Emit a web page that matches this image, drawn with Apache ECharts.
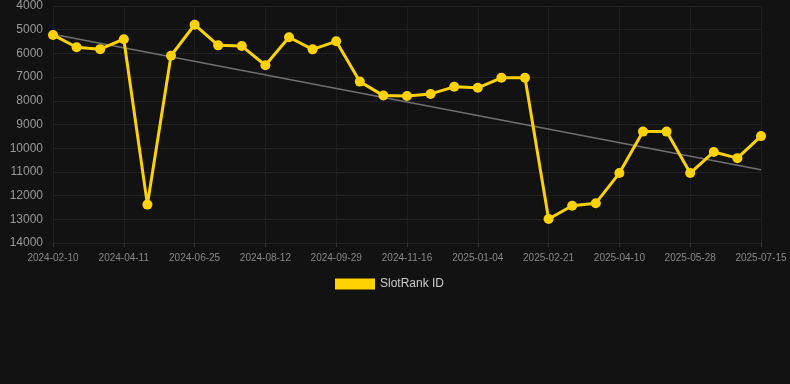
<!DOCTYPE html>
<html>
<head>
<meta charset="utf-8">
<script src="https://cdn.jsdelivr.net/npm/echarts@6/dist/echarts.min.js"></script>
<style>
html,body{margin:0;padding:0;background:#121212;}
#chart{width:790px;height:384px;}
</style>
</head>
<body>
<div id="chart"></div>
<script>
const categories = [
  '2024-02-10','2024-03-01','2024-03-21','2024-04-11','2024-05-06','2024-05-31',
  '2024-06-25','2024-07-11','2024-07-27','2024-08-12','2024-08-28','2024-09-13',
  '2024-09-29','2024-10-15','2024-10-31','2024-11-16','2024-12-02','2024-12-18',
  '2025-01-04','2025-01-20','2025-02-05','2025-02-21','2025-03-09','2025-03-25',
  '2025-04-10','2025-04-26','2025-05-12','2025-05-28','2025-06-13','2025-06-29',
  '2025-07-15'
];
const rankValues = [
  5220, 5740, 5820, 5400, 12380, 6100,
  4790, 5660, 5690, 6500, 5320, 5830,
  5490, 7190, 7780, 7800, 7710, 7410,
  7450, 7030, 7030, 12990, 12430, 12320,
  11050, 9300, 9300, 11050, 10160, 10420,
  9490
];
const trendEnds = [5190, 10910];
const yTicks = { min: 4000, max: 14000, interval: 1000 };

const trendData = categories.map((c, i) => i === 0 ? trendEnds[0] : (i === categories.length - 1 ? trendEnds[1] : null));

const chart = echarts.init(document.getElementById('chart'));
chart.setOption({
  backgroundColor: '#121212',
  animation: false,
  grid: { left: 53, right: 29, top: 6, bottom: 141, containLabel: false },
  legend: {
    data: ['SlotRank ID'],
    top: 273, left: 330,
    itemWidth: 40, itemHeight: 11, itemGap: 10,
    icon: 'rect',
    textStyle: { color: '#cccccc', fontSize: 12, fontFamily: 'Arial, Liberation Sans, sans-serif' }
  },
  xAxis: {
    type: 'category',
    data: categories,
    boundaryGap: false,
    axisLine: { show: false },
    axisTick: { show: true, interval: 2, length: 4, lineStyle: { color: '#333' } },
    axisLabel: { interval: 2, color: '#888', fontSize: 10, margin: 10, fontFamily: 'Arial, Liberation Sans, sans-serif' },
    splitLine: { show: true, interval: 2, lineStyle: { color: '#1f1f1f', width: 1 } }
  },
  yAxis: {
    type: 'value',
    inverse: true,
    min: yTicks.min, max: yTicks.max, interval: yTicks.interval,
    axisLine: { show: false },
    axisTick: { show: false },
    axisLabel: { color: '#999', fontSize: 12, margin: 10, formatter: v => String(v), fontFamily: 'Arial, Liberation Sans, sans-serif' },
    splitLine: { lineStyle: { color: '#222', width: 1 } }
  },
  series: [
    {
      name: 'SlotRank ID',
      type: 'line',
      data: rankValues,
      symbol: 'circle',
      symbolSize: 10,
      lineStyle: { color: '#FFD200', width: 3 },
      itemStyle: { color: '#FFD200' },
      z: 3
    },
    {
      name: 'trend',
      type: 'line',
      data: trendData,
      connectNulls: true,
      symbol: 'none',
      lineStyle: { color: '#707070', width: 1.5 },
      itemStyle: { color: '#707070' },
      z: 2
    }
  ]
});
</script>
</body>
</html>
